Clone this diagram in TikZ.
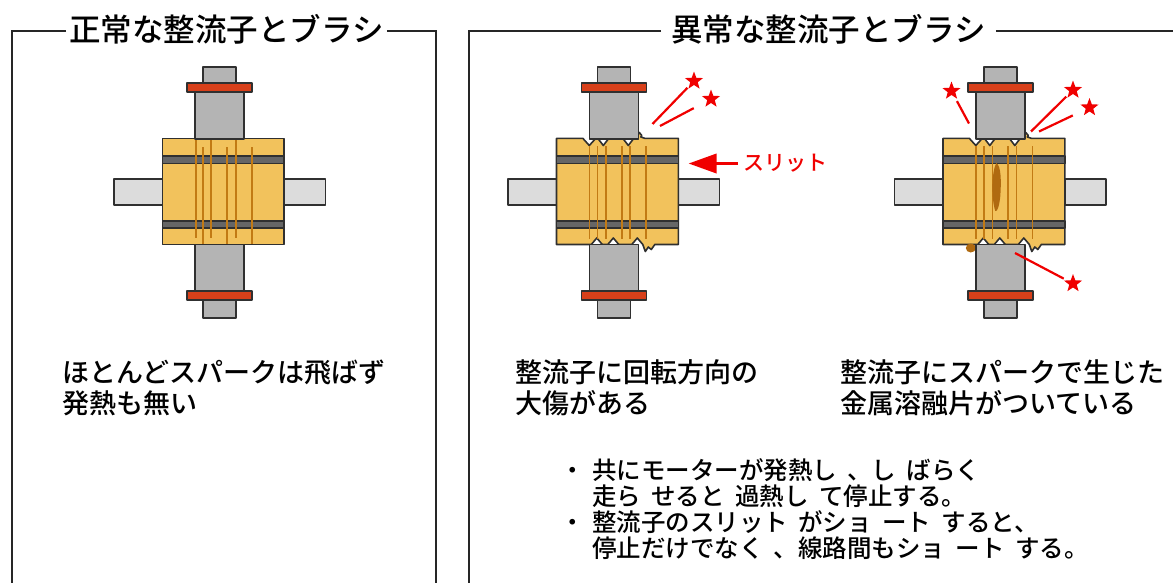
\documentclass[tikz,border=0pt]{standalone}
\usepackage{fontspec}
\IfFontExistsTF{Noto Sans CJK JP Medium}
  {\newfontfamily\jp{Noto Sans CJK JP Medium}}
  {\newfontfamily\jp{Noto Sans CJK JP}}
\usetikzlibrary{shapes.geometric,arrows.meta}

\definecolor{brass}{HTML}{F2C25C}
\definecolor{slitc}{HTML}{C27A14}
\definecolor{bandc}{HTML}{666666}
\definecolor{brushc}{HTML}{B4B4B4}
\definecolor{shaftc}{HTML}{DCDCDC}
\definecolor{holderc}{HTML}{D8401A}
\definecolor{edge}{HTML}{303030}
\definecolor{sparkc}{HTML}{F00000}
\definecolor{meltc}{HTML}{B06A10}

\tikzset{
  part/.style={draw=edge, line width=1.6pt, line join=round},
  frameline/.style={draw=black!85, line width=1.8pt},
  title/.style={font=\jp\fontsize{31.5}{31.5}\selectfont, inner sep=0pt},
  caption/.style={font=\jp\fontsize{27}{31}\selectfont, align=left, anchor=base west, inner sep=0pt},
  note/.style={font=\jp\fontsize{24.5}{26}\selectfont, anchor=base west, inner sep=0pt},
  spark/.style={draw=sparkc, line width=2.2pt},
  sparkstar/.style={star, star points=5, star point ratio=2.4, fill=sparkc, minimum size=19pt, inner sep=0pt},
  slit/.style={draw=slitc, line width=1.6pt},
}
% gap between words in the notes
\newcommand\gp{\hspace{0.42em}}

% side shafts and the two outer brush caps of one commutator unit
\newcommand\brushset{%
  \filldraw[part, fill=shaftc] (-105.7,179) rectangle (-57.3,205);
  \filldraw[part, fill=shaftc] (64.5,179) rectangle (105.7,205);
  \filldraw[part, fill=brushc] (-16.5,66.7) rectangle (16.5,83);
  \filldraw[part, fill=brushc] (-16.5,300) rectangle (16.5,318);
}
\newcommand\brushes{%
  \filldraw[part, fill=brushc] (-24.5,91.7) rectangle (24.5,139);
  \filldraw[part, fill=holderc] (-32.5,82.7) rectangle (32.5,91.7);
  \filldraw[part, fill=brushc] (-24.5,244.5) rectangle (24.5,291);
  \filldraw[part, fill=holderc] (-32.5,291) rectangle (32.5,300);
}
\newcommand\bands{%
  \filldraw[part, fill=bandc] (-57.3,156) rectangle (64.5,163.3);
  \filldraw[part, fill=bandc] (-57.3,221) rectangle (64.5,228);
}
% worn commutator with grooves and burrs
\newcommand\worncomm{%
  \filldraw[part, fill=brass]
    (-57.3,138.3) -- (-31,138.3) -- (-24.5,145.5) -- (-18,138.3) -- (-16,138.3)
    -- (-10.5,145.5) -- (-5,138.3) -- (9,138.3) -- (14.5,145.5) -- (20,138.3)
    -- (22,138.3) -- (25.5,132.5) -- (28,135.5) -- (27,137) -- (31,138.3)
    -- (64.5,138.3) -- (64.5,244.5) -- (41,244.5) -- (37.5,249.5) -- (34.5,247)
    -- (31.5,251.5) -- (29,244.5) -- (23.5,238) -- (18,244.5) -- (5,244.5)
    -- (-0.5,238) -- (-6,244.5) -- (-11.5,244.5) -- (-17,238) -- (-22.5,244.5)
    -- (-57.3,244.5) -- cycle;
  \bands
  \foreach \x in {-24.5,-16.5,-7.8,7.9,16.2,32.2}
    \draw[slit] (\x,146) -- (\x,239);
}

\begin{document}
\begin{tikzpicture}[x=1pt,y=-1pt]
\useasboundingbox (0,0) rectangle (1173,582);

% ---------- frames and titles ----------
\node[title] (tnormal) at (226.5,29) {正常な整流子とブラシ};
\node[title] (tfault) at (828.5,29) {異常な整流子とブラシ};
\draw[frameline] (tnormal.west) ++(-3,2) -- (12,31) -- (12,584);
\draw[frameline] (tnormal.east) ++(3,2) -- (436,31) -- (436,584);
\draw[frameline] (tfault.west) ++(-10,2) -- (469,31) -- (469,584);
\draw[frameline] (tfault.east) ++(10,2) -- (1175,31);

% ---------- normal unit ----------
\begin{scope}[xshift=219.7]
  \brushset
  \filldraw[part, fill=brass] (-57.3,138.3) rectangle (64.5,244.5);
  \bands
  \foreach \x in {-24,-8.7,16.3} \draw[slit] (\x,139) -- (\x,238);
  \foreach \x in {-16.7,7,32} \draw[slit] (\x,147) -- (\x,244);
  \brushes
\end{scope}

% ---------- grooved unit ----------
\begin{scope}[xshift=613.8]
  \brushset
  \worncomm
  \brushes
\end{scope}

% ---------- unit with fused metal ----------
\begin{scope}[xshift=1000.3]
  \brushset
  \worncomm
  \fill[meltc] (-4,163) .. controls (1,166) and (1,182) .. (0,196)
    .. controls (-1,206) and (-3,212) .. (-5,211)
    .. controls (-9,200) and (-9,172) .. cycle;
  \fill[meltc] (-29.5,248) ellipse[x radius=5, y radius=4.5];
  \brushes
\end{scope}

% ---------- sparks ----------
\node[sparkstar] (m1) at (694,81) {};
\node[sparkstar] (m2) at (711,99) {};
\coordinate (m1t) at (652.5,124);
\coordinate (m2t) at (660,126);
\draw[spark, shorten >=9.5pt] (m1t) -- (m1.center);
\draw[spark, shorten >=19.5pt] (m2t) -- (m2.center);

\node[sparkstar] (r1) at (951.5,91) {};
\node[sparkstar] (r2) at (1073,90) {};
\node[sparkstar] (r3) at (1089.5,107.5) {};
\node[sparkstar] (r4) at (1073,283.5) {};
\coordinate (r1t) at (969,123.5);
\coordinate (r2t) at (1031,131.5);
\coordinate (r3t) at (1039,131.5);
\coordinate (r4t) at (1015,253);
\draw[spark, shorten >=11.5pt] (r1t) -- (r1.center);
\draw[spark, shorten >=9.5pt] (r2t) -- (r2.center);
\draw[spark, shorten >=18.5pt] (r3t) -- (r3.center);
\draw[spark, shorten >=10.5pt] (r4t) -- (r4.center);

% ---------- slit pointer ----------
\node[font=\jp\fontsize{21}{21}\selectfont, text=sparkc, anchor=west, inner sep=0pt] (slitlbl) at (743,163.5) {スリット};
\coordinate (slittip) at (688.5,163.5);
\draw[draw=sparkc, line width=3.5pt, shorten <=5pt, -{Triangle[length=28pt,width=19pt]}] (slitlbl.west) -- (slittip);

% ---------- captions ----------
\node[caption] (capA) at (62,413) {ほとんどスパークは飛ばず\\発熱も無い};
\node[caption] (capB) at (515,413) {整流子に回転方向の\\大傷がある};
\node[caption] (capC) at (840,413) {整流子にスパークで生じた\\金属溶融片がついている};

% ---------- notes ----------
\node[note] (b1) at (560,479) {・};
\node[note] (b2) at (560,531) {・};
\node[note] (n1) at (592,479) {共にモーターが発熱し\gp、し\gp ばらく};
\node[note] (n2) at (592,505) {走ら\gp せると\gp 過熱し\gp て停止する。};
\node[note] (n3) at (592,531) {整流子のスリット\gp がショ\gp ート\gp すると、};
\node[note] (n4) at (592,557) {停止だけでなく\gp 、線路間もショ\gp ート\gp する。};
\end{tikzpicture}
\end{document}
